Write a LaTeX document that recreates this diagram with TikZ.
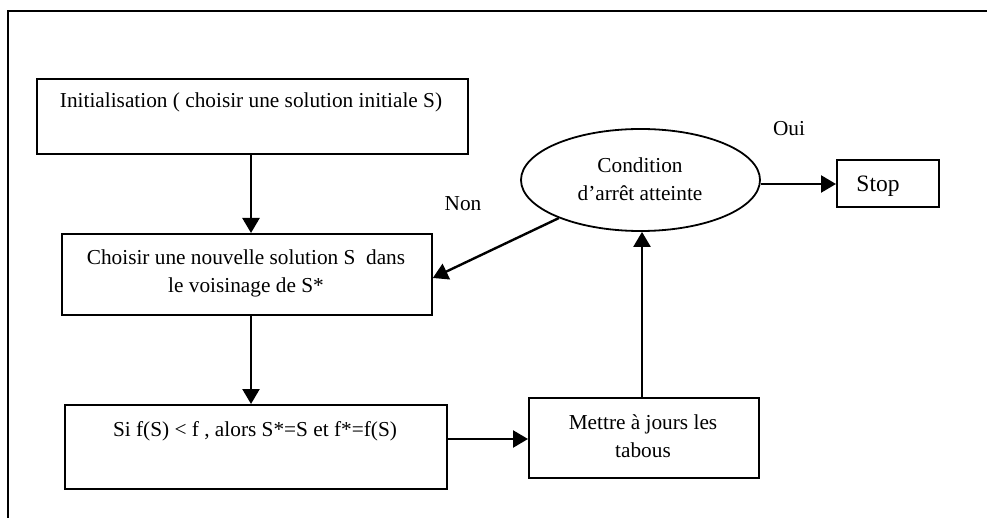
\documentclass[tikz,border=0pt]{standalone}
\usepackage{fontspec}
\setmainfont{Liberation Serif}
\usetikzlibrary{arrows.meta,shapes.geometric}
\begin{document}
\begin{tikzpicture}[x=1pt,y=-1pt,
  box/.style={draw,line width=1.8pt,minimum width=#1,inner sep=0pt,anchor=north west},
  txt/.style={font=\fontsize{21.3}{28}\selectfont,align=center,inner sep=0pt},
  flow/.style={line width=2.4pt,-{Triangle[length=15pt,width=17pt]}},
  frameline/.style={line width=1.6pt}]
\useasboundingbox (0,0) rectangle (987,518);
% outer frame (top and left edges)
\draw[frameline] (987,11) -- (8,11) -- (8,518);

% boxes
\node[box=431pt,minimum height=75pt] (init) at (36,78) {};
\node[box=370pt,minimum height=81pt] (choix) at (61,233) {};
\node[box=382pt,minimum height=84pt] (maj) at (64,404) {};
\node[box=230pt,minimum height=80pt] (tabou) at (528,397) {};
\node[box=102pt,minimum height=47pt] (stop) at (836,159) {};
\node[draw,line width=1.8pt,ellipse,minimum width=239pt,minimum height=102pt,inner sep=0pt] (cond) at (640.5,180) {};

% texts
\node[txt] (tinit) at (251,102) {Initialisation ( choisir une solution initiale S)};
\node[txt] (tchoix) at (246,273) {Choisir une nouvelle solution S\ \ dans\\le voisinage de S*};
\node[txt] (tmaj) at (255,431) {Si f(S) < f , alors S*=S et f*=f(S)};
\node[txt] (ttabou) at (643,436) {Mettre à jours les\\tabous};
\node[txt,font=\fontsize{23.5}{28}\selectfont] (tstop) at (878,186) {Stop};
\node[txt] (tcond) at (640,179) {Condition\\d’arrêt atteinte};
\node[txt] (oui) at (789,129) {Oui};
\node[txt] (non) at (463,204) {Non};

% connectors
\draw[flow] (init.south -| 251,0) -- (choix.north -| 251,0);
\draw[flow] (choix.south -| 251,0) -- (maj.north -| 251,0);
\draw[flow] (maj.east |- 0,439) -- (tabou.west |- 0,439);
\draw[flow] (tabou.north -| 642,0) -- (cond.south -| 642,0);
\draw[flow] (cond.east |- 0,184) -- (stop.west |- 0,184);
\draw[flow] (cond.-155) -- (choix.east |- 0,278);
\end{tikzpicture}
\end{document}
